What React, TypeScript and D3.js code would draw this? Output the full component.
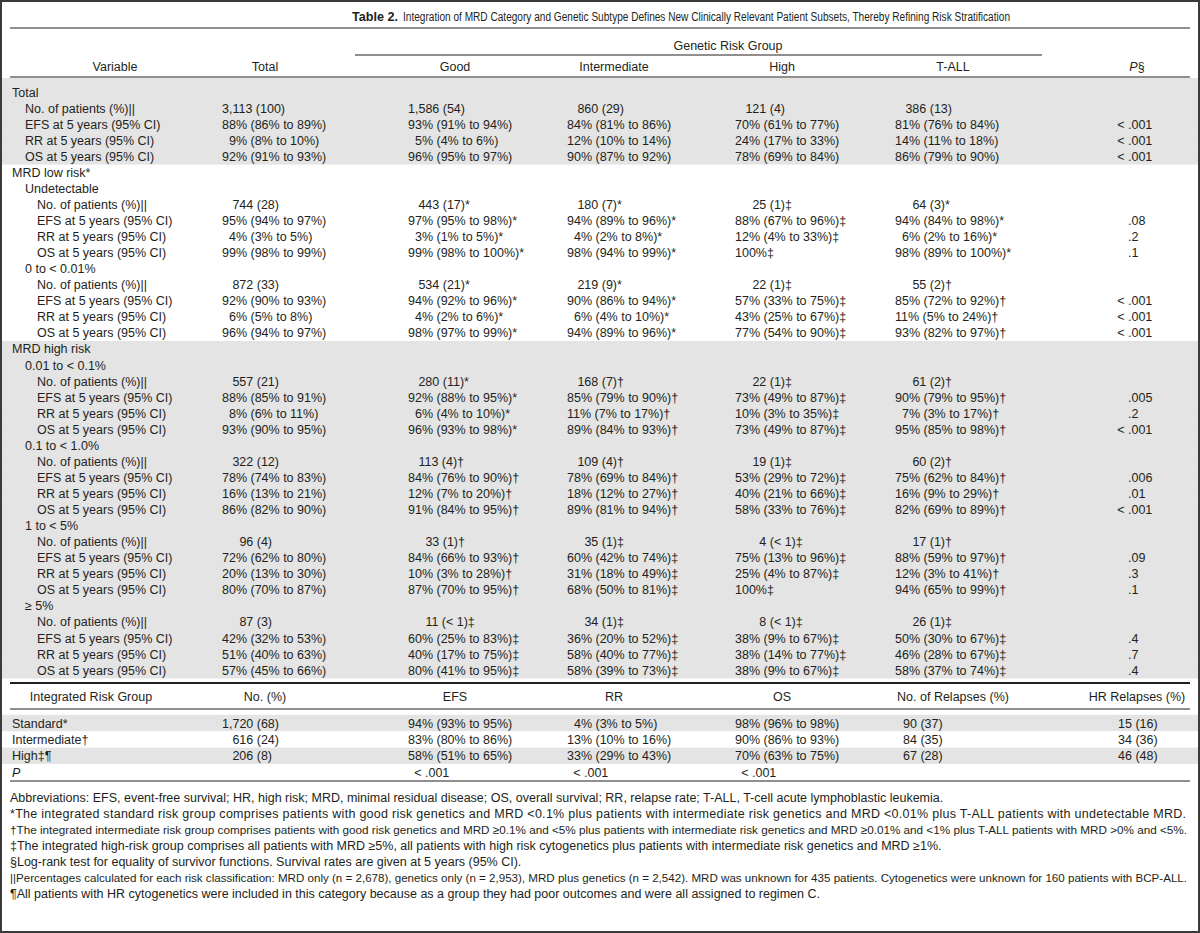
import React from 'react';
import * as d3 from 'd3';

const tableNo = 'Table 2.';
const title =
  'Integration of MRD Category and Genetic Subtype Defines New Clinically Relevant Patient Subsets, Thereby Refining Risk Stratification';

const columns = ['Total', 'Good', 'Intermediate', 'High', 'T-ALL'];
const sections = ['Total', 'MRD low risk*', 'MRD high risk'];
const subgroups = ['Undetectable', '0 to < 0.01%', '0.01 to < 0.1%', '0.1 to < 1.0%', '1 to < 5%', '≥ 5%'];
const measures = ['No. of patients (%)||', 'EFS at 5 years (95% CI)', 'RR at 5 years (95% CI)', 'OS at 5 years (95% CI)'];

// rows: Total, then the six MRD subgroups
const noPatients = [
  ['3,113 (100)', '1,586 (54)', '860 (29)', '121 (4)', '386 (13)'],
  ['744 (28)', '443 (17)*', '180 (7)*', '25 (1)‡', '64 (3)*'],
  ['872 (33)', '534 (21)*', '219 (9)*', '22 (1)‡', '55 (2)†'],
  ['557 (21)', '280 (11)*', '168 (7)†', '22 (1)‡', '61 (2)†'],
  ['322 (12)', '113 (4)†', '109 (4)†', '19 (1)‡', '60 (2)†'],
  ['96 (4)', '33 (1)†', '35 (1)‡', '4 (< 1)‡', '17 (1)†'],
  ['87 (3)', '11 (< 1)‡', '34 (1)‡', '8 (< 1)‡', '26 (1)‡'],
];
const efs5y = [
  ['88% (86% to 89%)', '93% (91% to 94%)', '84% (81% to 86%)', '70% (61% to 77%)', '81% (76% to 84%)'],
  ['95% (94% to 97%)', '97% (95% to 98%)*', '94% (89% to 96%)*', '88% (67% to 96%)‡', '94% (84% to 98%)*'],
  ['92% (90% to 93%)', '94% (92% to 96%)*', '90% (86% to 94%)*', '57% (33% to 75%)‡', '85% (72% to 92%)†'],
  ['88% (85% to 91%)', '92% (88% to 95%)*', '85% (79% to 90%)†', '73% (49% to 87%)‡', '90% (79% to 95%)†'],
  ['78% (74% to 83%)', '84% (76% to 90%)†', '78% (69% to 84%)†', '53% (29% to 72%)‡', '75% (62% to 84%)†'],
  ['72% (62% to 80%)', '84% (66% to 93%)†', '60% (42% to 74%)‡', '75% (13% to 96%)‡', '88% (59% to 97%)†'],
  ['42% (32% to 53%)', '60% (25% to 83%)‡', '36% (20% to 52%)‡', '38% (9% to 67%)‡', '50% (30% to 67%)‡'],
];
const rr5y = [
  ['9% (8% to 10%)', '5% (4% to 6%)', '12% (10% to 14%)', '24% (17% to 33%)', '14% (11% to 18%)'],
  ['4% (3% to 5%)', '3% (1% to 5%)*', '4% (2% to 8%)*', '12% (4% to 33%)‡', '6% (2% to 16%)*'],
  ['6% (5% to 8%)', '4% (2% to 6%)*', '6% (4% to 10%)*', '43% (25% to 67%)‡', '11% (5% to 24%)†'],
  ['8% (6% to 11%)', '6% (4% to 10%)*', '11% (7% to 17%)†', '10% (3% to 35%)‡', '7% (3% to 17%)†'],
  ['16% (13% to 21%)', '12% (7% to 20%)†', '18% (12% to 27%)†', '40% (21% to 66%)‡', '16% (9% to 29%)†'],
  ['20% (13% to 30%)', '10% (3% to 28%)†', '31% (18% to 49%)‡', '25% (4% to 87%)‡', '12% (3% to 41%)†'],
  ['51% (40% to 63%)', '40% (17% to 75%)‡', '58% (40% to 77%)‡', '38% (14% to 77%)‡', '46% (28% to 67%)‡'],
];
const os5y = [
  ['92% (91% to 93%)', '96% (95% to 97%)', '90% (87% to 92%)', '78% (69% to 84%)', '86% (79% to 90%)'],
  ['99% (98% to 99%)', '99% (98% to 100%)*', '98% (94% to 99%)*', '100%‡', '98% (89% to 100%)*'],
  ['96% (94% to 97%)', '98% (97% to 99%)*', '94% (89% to 96%)*', '77% (54% to 90%)‡', '93% (82% to 97%)†'],
  ['93% (90% to 95%)', '96% (93% to 98%)*', '89% (84% to 93%)†', '73% (49% to 87%)‡', '95% (85% to 98%)†'],
  ['86% (82% to 90%)', '91% (84% to 95%)†', '89% (81% to 94%)†', '58% (33% to 76%)‡', '82% (69% to 89%)†'],
  ['80% (70% to 87%)', '87% (70% to 95%)†', '68% (50% to 81%)‡', '100%‡', '94% (65% to 99%)†'],
  ['57% (45% to 66%)', '80% (41% to 95%)‡', '58% (39% to 73%)‡', '38% (9% to 67%)‡', '58% (37% to 74%)‡'],
];
// P values for EFS, RR, OS per group
const pEfs = ['< .001', '.08', '< .001', '.005', '.006', '.09', '.4'];
const pRr = ['< .001', '.2', '< .001', '.2', '.01', '.3', '.7'];
const pOs = ['< .001', '.1', '< .001', '< .001', '< .001', '.1', '.4'];

const intHeaders = ['No. (%)', 'EFS', 'RR', 'OS', 'No. of Relapses (%)', 'HR Relapses (%)'];
const intGroups = ['Standard*', 'Intermediate†', 'High‡¶'];
const intNo = ['1,720 (68)', '616 (24)', '206 (8)'];
const intEfs = ['94% (93% to 95%)', '83% (80% to 86%)', '58% (51% to 65%)'];
const intRr = ['4% (3% to 5%)', '13% (10% to 16%)', '33% (29% to 43%)'];
const intOs = ['98% (96% to 98%)', '90% (86% to 93%)', '70% (63% to 75%)'];
const intRelapses = ['90 (37)', '84 (35)', '67 (28)'];
const intHrRelapses = ['15 (16)', '34 (36)', '46 (48)'];
const intP = ['< .001', '< .001', '< .001'];

const footnotes = [
  'Abbreviations: EFS, event-free survival; HR, high risk; MRD, minimal residual disease; OS, overall survival; RR, relapse rate; T-ALL, T-cell acute lymphoblastic leukemia.',
  '*The integrated standard risk group comprises patients with good risk genetics and MRD <0.1% plus patients with intermediate risk genetics and MRD <0.01% plus T-ALL patients with undetectable MRD.',
  '†The integrated intermediate risk group comprises patients with good risk genetics and MRD ≥0.1% and <5% plus patients with intermediate risk genetics and MRD ≥0.01% and <1% plus T-ALL patients with MRD >0% and <5%.',
  '‡The integrated high-risk group comprises all patients with MRD ≥5%, all patients with high risk cytogenetics plus patients with intermediate risk genetics and MRD ≥1%.',
  '§Log-rank test for equality of survivor functions. Survival rates are given at 5 years (95% CI).',
  '||Percentages calculated for each risk classification: MRD only (n = 2,678), genetics only (n = 2,953), MRD plus genetics (n = 2,542). MRD was unknown for 435 patients. Cytogenetics were unknown for 160 patients with BCP-ALL.',
  '¶All patients with HR cytogenetics were included in this category because as a group they had poor outcomes and were all assigned to regimen C.',
];
const condensed = [2, 5];

const W = 1200;
const H = 933;
const FS = 12.5;
const DIG = 0.556 * FS;
const COMMA = 0.278 * FS;
const INK = '#231f20';
const GRAY = '#e4e4e4';
const FONT = '"Liberation Sans", Arial, Helvetica, sans-serif';

type Row = { label: string; level: number; kind?: 'no' | 'pct'; values?: string[]; p?: string; gray: boolean };

function buildRows(): Row[] {
  const rows: Row[] = [];
  const addMeasures = (g: number, level: number, gray: boolean) => {
    const data = [noPatients[g], efs5y[g], rr5y[g], os5y[g]];
    const ps = [undefined, pEfs[g], pRr[g], pOs[g]];
    measures.forEach((m, k) =>
      rows.push({ label: m, level, kind: k === 0 ? 'no' : 'pct', values: data[k], p: ps[k], gray }),
    );
  };
  rows.push({ label: sections[0], level: 0, gray: true });
  addMeasures(0, 1, true);
  rows.push({ label: sections[1], level: 0, gray: false });
  [0, 1].forEach((s) => {
    rows.push({ label: subgroups[s], level: 1, gray: false });
    addMeasures(s + 1, 2, false);
  });
  rows.push({ label: sections[2], level: 0, gray: true });
  [2, 3, 4, 5].forEach((s) => {
    rows.push({ label: subgroups[s], level: 1, gray: true });
    addMeasures(s + 1, 2, true);
  });
  return rows;
}

const numWidth = (s: string) => s.split('').reduce((a, c) => a + (c === ',' ? COMMA : DIG), 0);

function valueX(v: string, kind: 'no' | 'pct', colX: number, ref = '1,586') {
  const token = v.split(' ')[0];
  if (kind === 'no') return colX + numWidth(ref) - numWidth(token);
  const digits = token.replace(/[^0-9]/g, '').length;
  return colX + (digits === 1 ? DIG : 0);
}

function drawTable(svgEl: SVGSVGElement) {
  const svg = d3.select(svgEl);
  svg.selectAll('*').remove();
  const bands = svg.append('g');
  const g = svg.append('g').attr('font-family', FONT).attr('font-size', FS).attr('fill', INK);

  const rows = buildRows();
  const STEP = 16.06;
  const rowY = d3.scaleLinear().domain([0, 1]).range([92, 92 + STEP]);
  const colX = d3.scaleOrdinal<string, number>().domain(columns).range([222, 408, 567, 735, 895]);
  const headX = d3.scaleOrdinal<string, number>().domain(columns).range([265, 455, 614, 782, 953]);
  const indent = d3.scaleOrdinal<number, number>().domain([0, 1, 2]).range([12, 25, 37]);
  const pDot = 1128;
  const ltW = 0.584 * FS + 0.278 * FS;
  const base = (y: number) => y + 4.5;

  // gray bands
  rows.forEach((r, i) => {
    if (!r.gray) return;
    const y0 = i === 0 ? 78 : rowY(i) - STEP / 2;
    bands.append('rect')
      .attr('x', 2)
      .attr('y', y0)
      .attr('width', W - 4)
      .attr('height', rowY(i) + STEP / 2 - y0 + 0.3)
      .attr('fill', GRAY);
  });

  const hline = (y: number, x1: number, x2: number, w = 1) =>
    g.append('line').attr('x1', x1).attr('x2', x2).attr('y1', y).attr('y2', y).attr('stroke', INK).attr('stroke-width', w);

  // title (condensed face)
  g.append('text').attr('x', 352).attr('y', 20.5).attr('font-weight', 'bold')
    .attr('textLength', 46).attr('lengthAdjust', 'spacingAndGlyphs').text(tableNo);
  g.append('text').attr('x', 403).attr('y', 20.5)
    .attr('textLength', 607).attr('lengthAdjust', 'spacingAndGlyphs').text(title);
  hline(28, 10, 1190, 1.2);

  // header
  g.append('text').attr('x', 728).attr('y', 49.5).attr('text-anchor', 'middle').text('Genetic Risk Group');
  hline(55, 355, 1042);
  g.append('text').attr('x', 115).attr('y', 70.5).attr('text-anchor', 'middle').text('Variable');
  columns.forEach((c) => g.append('text').attr('x', headX(c)).attr('y', 70.5).attr('text-anchor', 'middle').text(c));
  const ph = g.append('text').attr('x', 1137).attr('y', 70.5).attr('text-anchor', 'middle');
  ph.append('tspan').attr('font-style', 'italic').text('P');
  ph.append('tspan').text('§');
  hline(77, 10, 1190, 1.2);

  const pText = (v: string, dot: number, y: number) =>
    g.append('text')
      .attr('x', dot - (v.startsWith('<') ? ltW : 0))
      .attr('y', y)
      .text(v);

  rows.forEach((r, i) => {
    const y = base(rowY(i));
    g.append('text').attr('x', indent(r.level)).attr('y', y).text(r.label);
    if (r.values && r.kind) {
      r.values.forEach((v, c) =>
        g.append('text').attr('x', valueX(v, r.kind!, colX(columns[c]))).attr('y', y).text(v),
      );
    }
    if (r.p) pText(r.p, pDot, y);
  });

  // integrated risk group block
  hline(683, 10, 1190, 2);
  const intCols = [222, 408, 567, 735, 895, 1118];
  const intHead = [265, 455, 614, 782, 953, 1137];
  g.append('text').attr('x', 91).attr('y', 700.5).attr('text-anchor', 'middle').text('Integrated Risk Group');
  intHeaders.forEach((h, k) => g.append('text').attr('x', intHead[k]).attr('y', 700.5).attr('text-anchor', 'middle').text(h));
  hline(709, 10, 1190, 1.2);
  const intY = d3.scaleLinear().domain([0, 1]).range([723, 739.4]);
  [0, 2].forEach((k) =>
    bands.append('rect').attr('x', 2).attr('y', intY(k) - 8.2).attr('width', W - 4).attr('height', 16.4).attr('fill', GRAY),
  );
  intGroups.forEach((lab, k) => {
    const y = base(intY(k));
    g.append('text').attr('x', 12).attr('y', y).text(lab);
    g.append('text').attr('x', valueX(intNo[k], 'no', intCols[0], '1,720')).attr('y', y).text(intNo[k]);
    g.append('text').attr('x', valueX(intEfs[k], 'pct', intCols[1])).attr('y', y).text(intEfs[k]);
    g.append('text').attr('x', valueX(intRr[k], 'pct', intCols[2])).attr('y', y).text(intRr[k]);
    g.append('text').attr('x', valueX(intOs[k], 'pct', intCols[3])).attr('y', y).text(intOs[k]);
    g.append('text').attr('x', intCols[4] + 8).attr('y', y).text(intRelapses[k]);
    g.append('text').attr('x', intCols[5]).attr('y', y).text(intHrRelapses[k]);
  });
  const yP = base(intY(3));
  g.append('text').attr('x', 12).attr('y', yP).attr('font-style', 'italic').text('P');
  intP.forEach((v, k) => pText(v, intCols[k + 1] + 17, yP));
  hline(781, 10, 1190, 1.2);

  // footnotes
  const fnY = d3.scaleLinear().domain([0, 1]).range([801.5, 817.5]);
  footnotes.forEach((f, k) => {
    const tx = g.append('text').attr('x', 10).attr('y', fnY(k)).text(f);
    if (k === 1) tx.attr('textLength', 1176).attr('lengthAdjust', 'spacing');
    if (condensed.includes(k))
      tx.attr('font-size', 11.6).attr('textLength', 1177).attr('lengthAdjust', 'spacingAndGlyphs');
  });

  // outer frame
  svg.append('rect')
    .attr('x', 1)
    .attr('y', 1)
    .attr('width', W - 2)
    .attr('height', H - 2)
    .attr('fill', 'none')
    .attr('stroke', '#3a3a3a')
    .attr('stroke-width', 2);
}

export default function App() {
  const ref = React.useRef<SVGSVGElement>(null);
  React.useEffect(() => {
    if (ref.current) drawTable(ref.current);
  }, []);
  return (
    <svg
      ref={ref}
      width={W}
      height={H}
      style={{ position: 'absolute', left: 0, top: 0, background: '#fff' }}
    />
  );
}
